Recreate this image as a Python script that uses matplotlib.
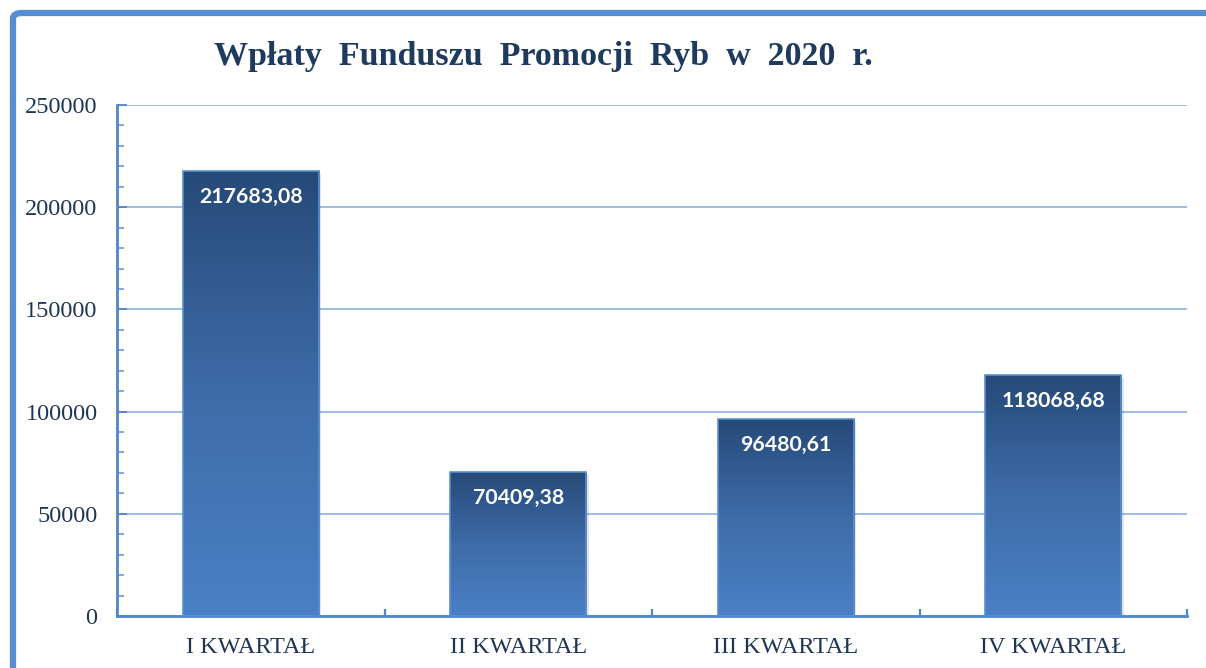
import matplotlib
matplotlib.use("Agg")
import matplotlib.pyplot as plt
import numpy as np
from matplotlib.patches import FancyBboxPatch, Rectangle
from matplotlib.colors import LinearSegmentedColormap
from matplotlib.ticker import MultipleLocator, FixedLocator

categories = ["I KWARTAŁ", "II KWARTAŁ", "III KWARTAŁ", "IV KWARTAŁ"]
values = [217683.08, 70409.38, 96480.61, 118068.68]
value_labels = ["217683,08", "70409,38", "96480,61", "118068,68"]
title = "Wpłaty  Funduszu  Promocji  Ryb  w  2020  r."
yticks = [0, 50000, 100000, 150000, 200000, 250000]

W, H = 1206, 668
fig = plt.figure(figsize=(W / 100, H / 100), dpi=100)
fig.patch.set_facecolor("white")

# outer frame (partially cropped like the reference)
frame = FancyBboxPatch((13 / W, -0.2), 1.2, (H - 13) / H + 0.2,
                       boxstyle="round,pad=0,rounding_size=0.008",
                       transform=fig.transFigure, fill=False,
                       edgecolor="#558ed5", linewidth=4.5, zorder=0)
fig.patches.append(frame)

ax = fig.add_axes([117 / W, 1 - 616 / H, (1187 - 117) / W, (616 - 105) / H])
ax.set_facecolor("none")

x = np.arange(len(categories))
bars = ax.bar(x, values, width=0.51, color="none", edgecolor="#5b8fd0",
              linewidth=1.2, zorder=3)

cmap = LinearSegmentedColormap.from_list("g", ["#4a80c6", "#3e6ca8", "#264a78"])
grad = np.linspace(0, 1, 256).reshape(-1, 1)
for b in bars:
    bx, bw, bh = b.get_x(), b.get_width(), b.get_height()
    sh = Rectangle((bx + 0.008, -1500), bw, bh, facecolor="#000000", alpha=0.10,
                   edgecolor="none", zorder=2)
    ax.add_patch(sh)
    im = ax.imshow(grad, extent=[bx, bx + bw, 0, bh], origin="lower",
                   cmap=cmap, aspect="auto", zorder=2.5, interpolation="bilinear")
    im.set_clip_path(b)

for b, lab in zip(bars, value_labels):
    ax.annotate(lab, (b.get_x() + b.get_width() / 2, b.get_height()),
                xytext=(0, -26), textcoords="offset pixels",
                ha="center", va="center", color="white",
                fontsize=15.3, fontweight="bold", family="Lato", zorder=5)

ax.set_xlim(-0.5, len(categories) - 0.5)
ax.set_ylim(0, 250000)

ax.yaxis.set_major_locator(FixedLocator(yticks))
ax.yaxis.set_minor_locator(MultipleLocator(10000))
ax.grid(axis="y", which="major", color="#95b8e4", linewidth=1.3, zorder=1)
ax.set_axisbelow(True)

ax.set_xticks(x)
ax.set_xticklabels(categories)
ax.xaxis.set_minor_locator(FixedLocator(np.arange(-0.5, len(categories), 1.0)))

for s in ["top", "right"]:
    ax.spines[s].set_visible(False)
for s in ["left", "bottom"]:
    ax.spines[s].set_color("#4f86cc")
    ax.spines[s].set_linewidth(2)

ax.tick_params(axis="y", which="major", direction="in", length=7, width=1.3,
               color="#4f86cc", labelsize=17.5, labelcolor="#1f3556", pad=14)
ax.tick_params(axis="y", which="minor", direction="in", length=5, width=1.2,
               color="#6f9ad6")
ax.tick_params(axis="x", which="major", direction="in", length=3, width=1,
               color="#7aa3da", labelsize=17.5, labelcolor="#1f3556", pad=15)
ax.tick_params(axis="x", which="minor", direction="in", length=5, width=1.6,
               color="#4f86cc")
for t in ax.get_xticklabels() + ax.get_yticklabels():
    t.set_family("Liberation Serif")

fig.text(543 / W, 1 - 56 / H, title, ha="center", va="center",
         fontsize=24.5, fontweight="bold", family="Liberation Serif",
         color="#1f3a5f")

fig.savefig("out.png", dpi=100, facecolor="white")
